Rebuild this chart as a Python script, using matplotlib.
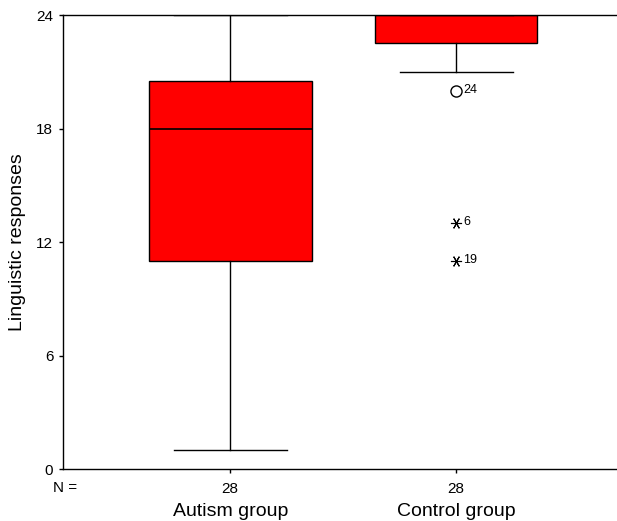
import matplotlib
matplotlib.use("Agg")
import matplotlib.pyplot as plt

plt.rcParams['font.family'] = ['Liberation Sans', 'DejaVu Sans']

groups = ["Autism group", "Control group"]
n_counts = [28, 28]
whisker_low = [1, 21]
q1 = [11, 22.5]
median = [18, 24]
q3 = [20.5, 24]
whisker_high = [24, 24]
# outliers: (group index, value, case label, kind)
outlier_group = [1, 1, 1]
outlier_value = [20, 13, 11]
outlier_label = ["24", "6", "19"]
outlier_kind = ["circle", "extreme", "extreme"]
yticks = [0, 6, 12, 18, 24]

fig = plt.figure(figsize=(6.17, 5.21), dpi=100)
ax = fig.add_axes([0.1021, 0.0998, 0.8979, 0.9712 - 0.0998])

stats = []
for i, g in enumerate(groups):
    stats.append(dict(label=g, whislo=whisker_low[i], q1=q1[i], med=median[i],
                      q3=q3[i], whishi=whisker_high[i], fliers=[]))
positions = [1, 2]
ax.bxp(stats, positions=positions, widths=0.72, patch_artist=True,
       showfliers=False,
       boxprops=dict(facecolor='#ff0000', edgecolor='black', linewidth=1.0),
       medianprops=dict(color='black', linewidth=1.2),
       whiskerprops=dict(color='black', linewidth=1.0),
       capprops=dict(color='black', linewidth=1.0),
       capwidths=0.5)

for gi, v, lab, kind in zip(outlier_group, outlier_value, outlier_label, outlier_kind):
    x = positions[gi]
    if kind == "circle":
        ax.plot([x], [v], marker='o', markersize=8, markerfacecolor='white',
                markeredgecolor='black', markeredgewidth=1.0, clip_on=False)
    else:
        ax.plot([x], [v], marker=(6, 2, 90), markersize=8, color='black',
                markeredgewidth=0.8, clip_on=False)
    ax.annotate(lab, (x, v), xytext=(5, 0.5), textcoords='offset points',
                fontsize=9, va='center', ha='left')

ax.set_xlim(0.26, 2.712)
ax.set_ylim(0, 24)
ax.set_yticks(yticks)
ax.set_yticklabels([str(t) for t in yticks], fontsize=11)
ax.set_xticks(positions)
ax.set_xticklabels([str(n) for n in n_counts], fontsize=11)
ax.tick_params(axis='both', direction='out', length=3, width=1)
ax.tick_params(axis='y', pad=4)
ax.tick_params(axis='x', pad=6)
ax.spines['right'].set_visible(False)
for s in ['left', 'top', 'bottom']:
    ax.spines[s].set_linewidth(1.0)

fig.text(18 / 617, 1 - 242 / 521, "Linguistic responses", fontsize=14,
         rotation=90, ha='center', va='center')
fig.text(53 / 617, 1 - 488 / 521, "N =", fontsize=11, ha='left', va='center')
for p, g in zip(positions, groups):
    xf = ax.transData.transform((p, 0))[0] / fig.bbox.width
    fig.text(xf, 1 - 511 / 521, g, fontsize=14, ha='center', va='center')

fig.savefig("out.png", dpi=100)
